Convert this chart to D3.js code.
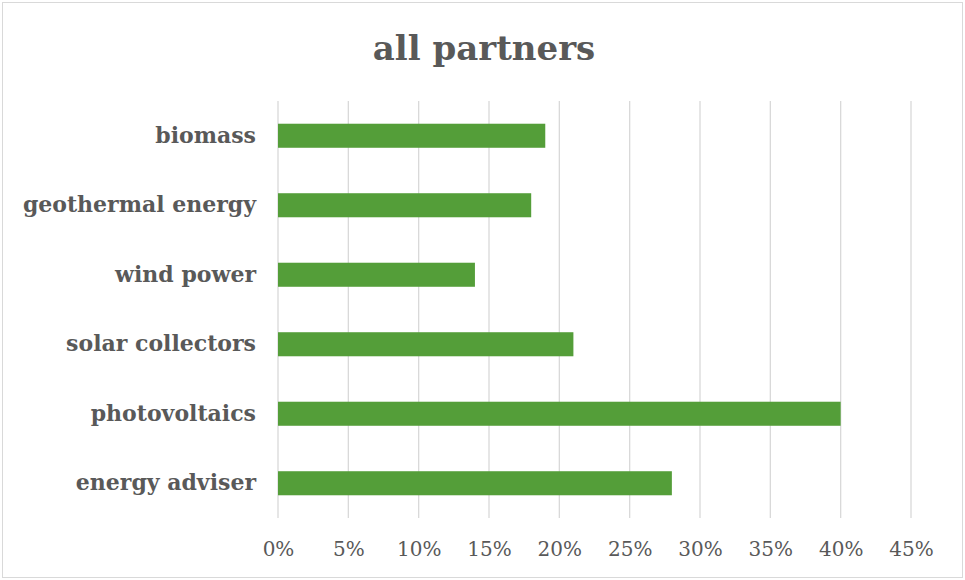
<!DOCTYPE html>
<html>
<head>
<meta charset="utf-8">
<script src="https://cdn.jsdelivr.net/npm/d3@7.9.0/dist/d3.min.js"></script>
<style>
  html, body { margin: 0; padding: 0; background: #fff; }
  svg { display: block; }
</style>
</head>
<body>
<svg id="chart" width="965" height="580"></svg>
<script>
// chart data
const categories = ['biomass', 'geothermal energy', 'wind power', 'solar collectors', 'photovoltaics', 'energy adviser'];
const shares = [0.19, 0.18, 0.14, 0.21, 0.40, 0.28];
const tickValues = [0, 0.05, 0.10, 0.15, 0.20, 0.25, 0.30, 0.35, 0.40, 0.45];
const title = 'all partners';

const width = 965, height = 580;
const margin = { top: 101, right: 54, bottom: 62, left: 278 };
const serif = '"DejaVu Serif", "Liberation Serif", serif';

const svg = d3.select('#chart');

// outer chart border
svg.append('rect')
  .attr('x', 2.5).attr('y', 2.5)
  .attr('width', width - 5).attr('height', height - 5)
  .attr('fill', '#fff')
  .attr('stroke', '#d9d9d9');

const x = d3.scaleLinear()
  .domain([0, 0.45])
  .range([margin.left, width - margin.right]);

const y = d3.scaleBand()
  .domain(categories)
  .range([margin.top, height - margin.bottom])
  .paddingInner(0.654)
  .paddingOuter(0.327);

// vertical gridlines
svg.append('g')
  .selectAll('line')
  .data(tickValues)
  .enter()
  .append('line')
  .attr('x1', d => x(d)).attr('x2', d => x(d))
  .attr('y1', margin.top).attr('y2', height - margin.bottom)
  .attr('stroke', '#d9d9d9')
  .attr('stroke-width', 1.3);

// bars
svg.append('g')
  .selectAll('rect')
  .data(categories)
  .enter()
  .append('rect')
  .attr('x', x(0))
  .attr('y', d => y(d))
  .attr('width', (d, i) => x(shares[i]) - x(0))
  .attr('height', y.bandwidth())
  .attr('fill', '#549e39');

// category axis
const yAxis = svg.append('g')
  .attr('transform', `translate(${margin.left},0)`)
  .call(d3.axisLeft(y).tickSize(0).tickPadding(22));
yAxis.select('.domain').remove();
yAxis.selectAll('text')
  .attr('fill', '#595959')
  .style('font-family', serif)
  .style('font-weight', 'bold')
  .style('font-size', '22px');

// value axis
const xAxis = svg.append('g')
  .attr('transform', `translate(0,${height - margin.bottom})`)
  .call(d3.axisBottom(x).tickValues(tickValues).tickSize(0).tickPadding(24).tickFormat(d3.format('.0%')));
xAxis.select('.domain').remove();
xAxis.selectAll('text')
  .attr('fill', '#595959')
  .style('font-family', serif)
  .style('font-size', '20px');

// title
svg.append('text')
  .attr('x', 484)
  .attr('y', 60)
  .attr('text-anchor', 'middle')
  .attr('fill', '#595959')
  .style('font-family', serif)
  .style('font-weight', 'bold')
  .style('font-size', '34px')
  .text(title);
</script>
</body>
</html>
